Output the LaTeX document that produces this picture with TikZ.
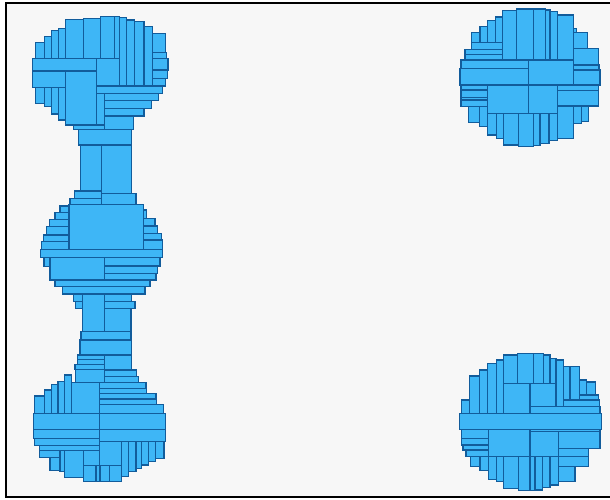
\documentclass[tikz,border=0pt]{standalone}
\definecolor{cellblue}{RGB}{62,182,246}
\definecolor{celledge}{RGB}{18,92,155}
\definecolor{paper}{RGB}{247,247,247}
\begin{document}
\begin{tikzpicture}[x=1pt, y=-1pt, cell/.style={fill=cellblue, draw=celledge, line width=1.1pt}]
\useasboundingbox (0,0) rectangle (610,499);
\fill[paper] (6,3) rectangle (613,497);
\draw[line width=2.2pt] (613,3.3) -- (6,3.3) -- (6,497) -- (613,497);
% top left blob
\foreach \xa/\ya/\xb/\yb in {35.3/42.3/44.3/58.3, 44.3/36.7/51.3/58.3, 51.3/30.7/58.7/58.3,
  58.7/28.3/65.3/58.3, 65.3/19.3/83.3/58.3, 83.3/18.3/100.3/58.3, 100.3/16.7/114.7/58.3,
  114.7/16.7/119.3/58.3, 119.3/17.3/126.7/86, 126.7/20/134.3/86, 134.3/21.7/144/86,
  144/26.7/152.3/86, 152.3/33.3/165.3/52.7, 152.3/52.7/166.7/58.3, 152.3/58.3/168/70,
  152.3/70/167.7/78.3, 152.3/78.3/165.3/86, 96.7/58.3/119.3/86, 32.7/58.3/96.7/71,
  32.7/71/65.3/87.7, 35.3/87.7/44.3/103.3, 44.3/87.7/51.3/106.7, 51.3/87.7/58.7/114,
  58.7/87.7/65.3/120, 65.3/71/96.7/125, 96.7/86/162.7/93.3, 104.3/93.3/158.3/100.7,
  104.3/100.7/151.7/108.3, 104.3/108.3/144/116, 104.3/116/133.3/129.3,
  96.7/93.3/104.3/125, 73.3/125/104.3/129.3}
  \draw[cell] (\xa,\ya) rectangle (\xb,\yb);
% upper neck
\foreach \xa/\ya/\xb/\yb in {78.3/129.3/131.7/145, 80.7/145/101.7/191, 101.7/145/131.7/193.3,
  74.3/191/101.7/198.3, 70/198.3/101.7/204.3, 101.7/193.3/136/204.3}
  \draw[cell] (\xa,\ya) rectangle (\xb,\yb);
% middle blob
\foreach \xa/\ya/\xb/\yb in {69/204.3/143.3/249.3, 60/206/69/212.7, 55/212.7/69/219.3,
  49.3/219.3/69/226.7, 46.7/226.7/69/235, 43.3/235/69/241.7, 41.7/241.7/69/249.3,
  143.3/210/146.7/218.7, 143.3/218.7/155/226, 143.3/226/157.7/233.3, 143.3/233.3/161.7/240,
  143.3/240/162.7/249.3, 40.7/249.3/162.7/257.7, 44/257.7/50/266.7, 50/257.7/104.3/280,
  104.3/257.7/160/266, 104.3/266/157.7/273.3, 104.3/273.3/156/280, 55/280/150/286.7,
  62.7/286.7/145/294}
  \draw[cell] (\xa,\ya) rectangle (\xb,\yb);
% lower neck
\foreach \xa/\ya/\xb/\yb in {73.3/294/82.7/301.7, 82.7/294/104.3/331.7, 104.3/294/131.7/301.7,
  75.7/301.7/82.7/308.3, 104.3/301.7/135/308.3, 104.3/308.3/131/331.7, 81/331.7/131/340,
  80/340/131.7/355, 77.3/355/104.3/359.3, 77.3/359.3/104.3/364.3, 104.3/355/131.7/370,
  75/364.3/104.3/369.3, 75.7/369.3/104.3/382.3, 104.3/370/136.7/376.7,
  104.3/376.7/138.3/382.3}
  \draw[cell] (\xa,\ya) rectangle (\xb,\yb);
% bottom left blob
\foreach \xa/\ya/\xb/\yb in {34.7/396/44.3/413.3, 44.3/390/51.3/413.3, 51.3/384.3/58/413.3,
  58/381.7/64.3/413.3, 64.3/375/71.7/413.3, 71.7/382.3/99.3/413.3, 99.3/382.3/146/388.3,
  99.3/388.3/146.7/393.3, 99.3/393.3/156/399, 99.3/399/156.7/404.3, 99.3/404.3/163.3/413.3,
  33.3/413.3/99.3/429.3, 99.3/413.3/165.7/429.3, 33.3/429.3/99.3/438.3,
  99.3/429.3/165.7/441.7, 34.7/438.3/99.3/445.7, 39.3/445.7/99.3/450.7,
  39.3/450.7/60/457.3, 50/457.3/60/470.7, 60/450.7/64.3/471.7, 64.3/450.7/83.3/477.3,
  83.3/450.7/99.3/465.7, 83.3/465.7/96/481.7, 96/465.7/100/481.7, 100/465.7/109.3/481.7,
  109.3/465.7/121.7/481.7, 99.3/441.7/121.7/465.7, 121.7/441.7/128.3/476.7,
  128.3/441.7/136/471.7, 136/441.7/141.7/468.3, 141.7/441.7/148.3/465,
  148.3/441.7/155.7/461.7, 155.7/441.7/164/458.3}
  \draw[cell] (\xa,\ya) rectangle (\xb,\yb);
% top right blob
\foreach \xa/\ya/\xb/\yb in {471.7/32.3/480/42.7, 480/26.7/487.3/42.7, 487.3/20.7/495.7/42.7,
  495.7/17/502.3/42.7, 502.3/10.7/516.7/60, 516.7/9/533.3/60, 533.3/9/545.7/60,
  545.7/10/550/60, 550/11.7/557.3/60, 557.3/15/573.3/60, 471.7/42.7/502.3/49.3,
  465/49.3/502.3/54.3, 465/54.3/502.3/60, 461/60/528.3/68.3, 460/68.3/528.3/85,
  528.3/60/573.3/85, 573.3/28.3/576.7/32.3, 573.3/32.3/587.3/48.3, 573.3/48.3/598.3/65,
  573.3/65/599/70, 573.3/70/600/85, 557.3/85/598.3/90.7, 557.3/90.7/598.3/106,
  528.3/85/557.3/113.3, 461/85/487.3/90, 461/90/487.3/97.3, 461/97.3/487.3/100,
  461/100/487.3/106.7, 487.3/85/528.3/113.3, 468.3/106.7/479.3/122.7,
  479.3/106.7/487.3/126.7, 487.3/113.3/496.7/135, 496.7/113.3/503.3/138.3,
  503.3/113.3/518.3/145, 518.3/113.3/533.3/146.7, 533.3/113.3/540/145.7,
  540/113.3/549/143.3, 549/113.3/557.3/140.7, 557.3/106/573.3/138.3,
  573.3/106/581.7/123.3, 581.7/106/588.3/121.7}
  \draw[cell] (\xa,\ya) rectangle (\xb,\yb);
% bottom right blob
\foreach \xa/\ya/\xb/\yb in {469.3/376/479.3/413.3, 479.3/370/487.3/413.3,
  487.3/363.3/496.7/413.3, 496.7/360/503.3/413.3, 503.3/355/517.7/383.3,
  517.7/353.3/533.3/383.3, 533.3/353.3/543.3/383.3, 543.3/355/550/383.3,
  550/358.3/556/383.3, 556/360/563.3/406.7, 563.3/366.7/570/400, 570/366.7/579.3/400,
  579.3/380/586.7/395, 586.7/382/595.7/395, 579.3/395/598.7/400, 503.3/383.3/530/413.3,
  530/383.3/556/406.7, 563.3/400/599.3/406.7, 530/406.7/600/413.3, 461.7/400/469.3/413.3,
  459.3/413.3/601.7/429.3, 461.7/429.3/488.3/438.3, 461.7/438.3/488.3/445,
  463/445/488.3/450, 466/450/488.3/456.7, 488.3/429.3/530/456.7, 530/429.3/600/431.7,
  530/431.7/558.3/456.7, 558.3/431.7/600/448.3, 558.3/448.3/588.3/456.7,
  558.3/456.7/588.3/466.7, 558.3/466.7/575/481.7, 470.7/456.7/480/466.7,
  480/456.7/488.3/470.7, 488.3/456.7/496.7/479.3, 496.7/456.7/503.3/481.7,
  503.3/456.7/518.3/488.3, 518.3/456.7/530/490.7, 530/456.7/535/490.7,
  535/456.7/542.7/490, 542.7/456.7/550/487.3, 550/456.7/558.3/485}
  \draw[cell] (\xa,\ya) rectangle (\xb,\yb);
\end{tikzpicture}
\end{document}
